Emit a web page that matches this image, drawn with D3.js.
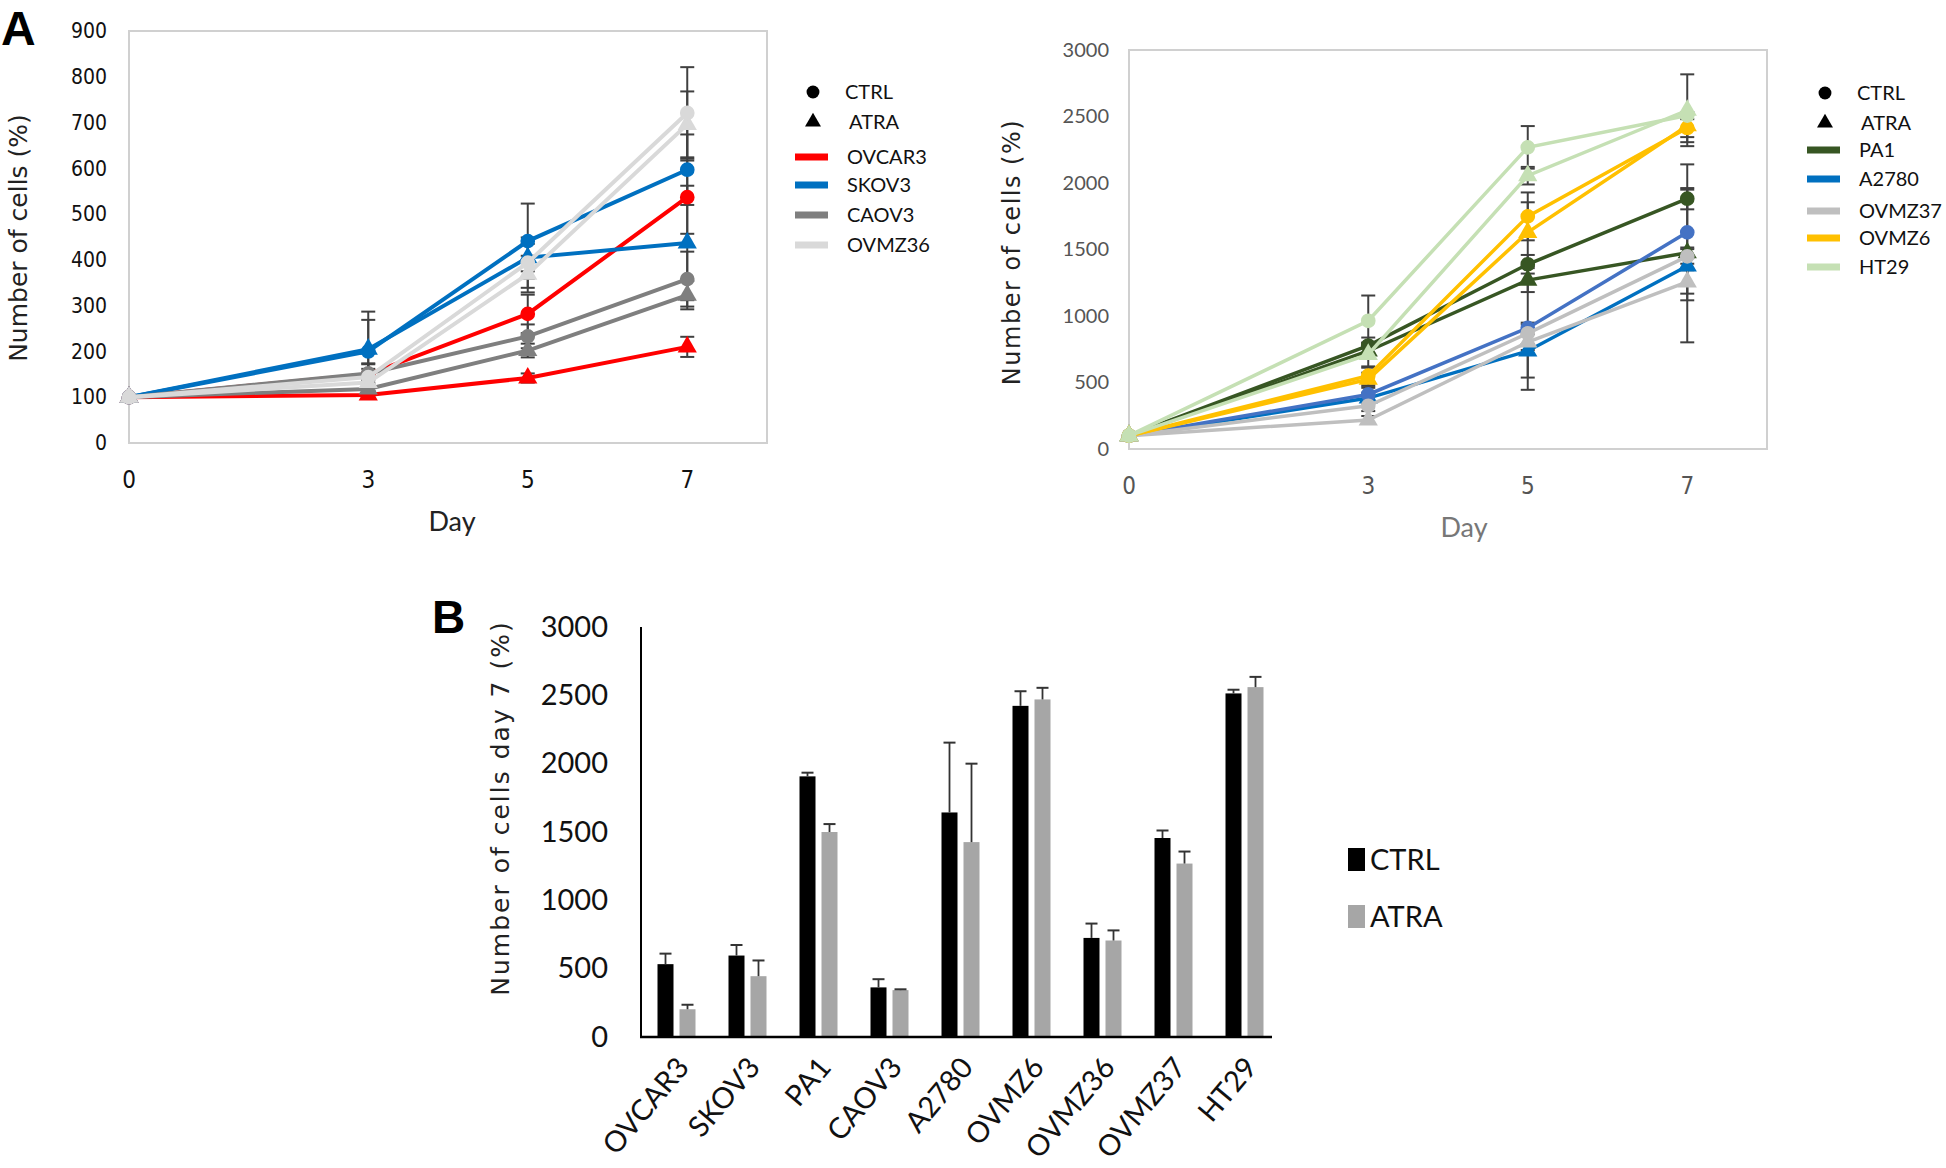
<!DOCTYPE html>
<html>
<head>
    <title></title>
    <meta charset="utf-8" />
    <script src="https://cdn.jsdelivr.net/npm/d3@7"></script>
    <style>
        body { margin: 0; background: #fff; }
        .tick-narrow { font-family: "Liberation Sans Narrow", "DejaVu Sans Condensed", sans-serif; }
        .lato { font-family: Lato, "Open Sans", sans-serif; }
        .title-wide { font-family: "DejaVu Sans", Verdana, sans-serif; }
    </style>
</head>
<body>
    <script>
        // ---- panel A left ----
        var days = [0, 3, 5, 7];
        var leftNames = ['OVCAR3', 'SKOV3', 'CAOV3', 'OVMZ36'];
        var leftColors = ['#ff0000', '#0070c0', '#7f7f7f', '#d9d9d9'];
        var leftTicks = [0, 100, 200, 300, 400, 500, 600, 700, 800, 900];

        var ovcar3Ctrl = [100, 150, 282, 537], ovcar3CtrlErr = [0, 12, 42, 80];
        var ovcar3Atra = [100, 105, 142, 210], ovcar3AtraErr = [0, 5, 10, 22];
        var skov3Ctrl = [100, 200, 441, 597], skov3CtrlErr = [0, 87, 82, 77];
        var skov3Atra = [100, 205, 405, 437], skov3AtraErr = [0, 64, 30, 125];
        var caov3Ctrl = [100, 152, 233, 358], caov3CtrlErr = [0, 20, 26, 60];
        var caov3Atra = [100, 118, 202, 323], caov3AtraErr = [0, 10, 15, 31];
        var ovmz36Ctrl = [100, 144, 394, 721], ovmz36CtrlErr = [0, 30, 55, 100];
        var ovmz36Atra = [100, 132, 369, 696], ovmz36AtraErr = [0, 20, 40, 72];

        // ---- panel A right ----
        var rightNames = ['PA1', 'A2780', 'OVMZ37', 'OVMZ6', 'HT29'];
        var rightColors = ['#375623', '#0070c0', '#bfbfbf', '#ffc000', '#c5e0b4'];
        var rightCtrlColors = ['#375623', '#4472c4', '#bfbfbf', '#ffc000', '#c5e0b4'];
        var rightTicks = [0, 500, 1000, 1500, 2000, 2500, 3000];

        var pa1Ctrl = [100, 778, 1389, 1882], pa1CtrlErr = [0, 60, 70, 80];
        var pa1Atra = [100, 737, 1270, 1475], pa1AtraErr = [0, 60, 90, 40];
        var a2780Ctrl = [100, 410, 910, 1629], a2780CtrlErr = [0, 50, 465, 511];
        var a2780Atra = [100, 383, 737, 1376], a2780AtraErr = [0, 40, 200, 574];
        var ovmz37Ctrl = [100, 325, 870, 1448], ovmz37CtrlErr = [0, 40, 80, 55];
        var ovmz37Atra = [100, 218, 804, 1256], ovmz37AtraErr = [0, 30, 60, 88];
        var ovmz6Ctrl = [100, 551, 1749, 2414], ovmz6CtrlErr = [0, 60, 180, 107];
        var ovmz6Atra = [100, 524, 1629, 2430], ovmz6AtraErr = [0, 50, 226, 85];
        var ht29Ctrl = [100, 964, 2268, 2507], ht29CtrlErr = [0, 190, 160, 27];
        var ht29Atra = [100, 711, 2055, 2547], ht29AtraErr = [0, 90, 66, 270];

        // ---- panel B ----
        var barCategories = ['OVCAR3', 'SKOV3', 'PA1', 'CAOV3', 'A2780', 'OVMZ6', 'OVMZ36', 'OVMZ37', 'HT29'];
        var barCtrl = [533, 596, 1907, 363, 1643, 2423, 725, 1456, 2514];
        var barCtrlErr = [77, 77, 27, 60, 511, 107, 105, 55, 27];
        var barAtra = [203, 445, 1500, 343, 1426, 2470, 706, 1269, 2560];
        var barAtraErr = [33, 115, 58, 6, 574, 85, 74, 88, 75];
        var barTicks = [0, 500, 1000, 1500, 2000, 2500, 3000];

        var svg = d3.select('body').append('svg').attr('width', 1946).attr('height', 1168);
        svg.append('rect').attr('width', 1946).attr('height', 1168).attr('fill', '#fff');

        var circle = d3.symbol().type(d3.symbolCircle).size(170);
        var triangle = d3.symbol().type(d3.symbolTriangle).size(160);
        var fmt = d3.format('d');

        function series(ctrl, ctrlErr, atra, atraErr) {
            return { ctrl: ctrl, ctrlErr: ctrlErr, atra: atra, atraErr: atraErr };
        }

        function linePanel(opt) {
            var g = svg.append('g');
            var x = d3.scaleLinear().domain([0, 8]).range([opt.left, opt.right]);
            var y = d3.scaleLinear().domain([0, opt.max]).range([opt.bottom, opt.top]);

            // frame
            g.append('rect')
                .attr('x', opt.left).attr('y', opt.top)
                .attr('width', opt.right - opt.left).attr('height', opt.bottom - opt.top)
                .attr('fill', 'none').attr('stroke', '#d0d0d0').attr('stroke-width', 2);

            // y tick labels
            var ya = d3.axisLeft(y).tickValues(opt.ticks).tickFormat(fmt).tickSize(0).tickPadding(opt.pad);
            var yg = g.append('g').attr('transform', 'translate(' + opt.left + ',0)').call(ya);
            yg.select('.domain').remove();
            yg.selectAll('text').attr('class', opt.tickClass).attr('font-size', opt.tickSize).attr('fill', opt.tickColor);

            // x tick labels below frame
            g.selectAll('.xl').data(days).enter().append('text')
                .attr('class', 'tick-narrow')
                .attr('x', function (d) { return x(d); })
                .attr('y', opt.bottom + 45)
                .attr('text-anchor', 'middle')
                .attr('font-size', 24).attr('fill', opt.tickColor)
                .text(function (d) { return d; });

            g.append('text').attr('x', opt.dayX).attr('y', opt.bottom + 88)
                .attr('text-anchor', 'middle').attr('class', 'lato')
                .attr('font-size', 27).attr('fill', opt.dayColor).text('Day');

            g.append('text').attr('class', 'title-wide')
                .attr('transform', 'translate(' + opt.titleX + ',' + opt.titleY + ') rotate(-90)')
                .attr('text-anchor', 'middle').attr('font-size', opt.titleSize)
                .attr('letter-spacing', opt.titleSpacing)
                .attr('fill', '#222').text('Number of cells (%)');

            var line = d3.line().x(function (d, i) { return x(days[i]); }).y(function (d) { return y(d); });

            // error bars first
            opt.data.forEach(function (s) {
                [[s.ctrl, s.ctrlErr], [s.atra, s.atraErr]].forEach(function (p) {
                    p[0].forEach(function (v, i) {
                        var e = p[1][i];
                        if (!e) return;
                        var cx = x(days[i]);
                        g.append('line').attr('x1', cx).attr('x2', cx)
                            .attr('y1', y(v - e)).attr('y2', y(v + e))
                            .attr('stroke', '#404040').attr('stroke-width', 2);
                        [v - e, v + e].forEach(function (w) {
                            g.append('line').attr('x1', cx - 7).attr('x2', cx + 7)
                                .attr('y1', y(w)).attr('y2', y(w))
                                .attr('stroke', '#404040').attr('stroke-width', 2);
                        });
                    });
                });
            });

            opt.data.forEach(function (s, k) {
                g.append('path').datum(s.atra).attr('d', line).attr('fill', 'none')
                    .attr('stroke', opt.colors[k]).attr('stroke-width', opt.lineWidth);
                g.append('path').datum(s.ctrl).attr('d', line).attr('fill', 'none')
                    .attr('stroke', opt.ctrlColors[k]).attr('stroke-width', opt.lineWidth);
                g.selectAll(null).data(s.atra).enter().append('path')
                    .attr('d', triangle).attr('fill', opt.colors[k])
                    .attr('transform', function (d, i) { return 'translate(' + x(days[i]) + ',' + y(d) + ')'; });
                g.selectAll(null).data(s.ctrl).enter().append('path')
                    .attr('d', circle).attr('fill', opt.ctrlColors[k])
                    .attr('transform', function (d, i) { return 'translate(' + x(days[i]) + ',' + y(d) + ')'; });
            });

            // legend
            var lg = g.append('g');
            lg.append('path').attr('d', d3.symbol().type(d3.symbolCircle).size(130))
                .attr('transform', 'translate(' + opt.legX + ',' + opt.legY[0] + ')');
            lg.append('path').attr('d', d3.symbol().type(d3.symbolTriangle).size(110))
                .attr('transform', 'translate(' + opt.legX + ',' + opt.legY[1] + ')');
            ['CTRL', 'ATRA'].forEach(function (t, i) {
                lg.append('text').attr('class', 'lato').attr('x', opt.legX + 32 + i * 4).attr('y', opt.legY[i] + 7)
                    .attr('font-size', 20).attr('fill', '#111').text(t);
            });
            opt.names.forEach(function (t, i) {
                var yy = opt.legY[i + 2];
                lg.append('line').attr('x1', opt.legX - 18).attr('x2', opt.legX + 15)
                    .attr('y1', yy).attr('y2', yy).attr('stroke', opt.colors[i]).attr('stroke-width', 7);
                lg.append('text').attr('class', 'lato').attr('x', opt.legX + 34).attr('y', yy + 7)
                    .attr('font-size', 20).attr('fill', '#111').text(t);
            });
        }

        linePanel({
            left: 129, right: 767, top: 31, bottom: 443, max: 900, ticks: leftTicks, pad: 22,
            tickClass: 'tick-narrow', tickSize: 21,
            tickColor: '#111', dayColor: '#222', dayX: 452, titleX: 27, titleY: 238, titleSize: 25, titleSpacing: 0,
            names: leftNames, colors: leftColors, ctrlColors: leftColors, lineWidth: 4,
            data: [series(ovcar3Ctrl, ovcar3CtrlErr, ovcar3Atra, ovcar3AtraErr),
                series(skov3Ctrl, skov3CtrlErr, skov3Atra, skov3AtraErr),
                series(caov3Ctrl, caov3CtrlErr, caov3Atra, caov3AtraErr),
                series(ovmz36Ctrl, ovmz36CtrlErr, ovmz36Atra, ovmz36AtraErr)],
            legX: 813, legY: [92, 122, 157, 185, 215, 245]
        });

        linePanel({
            left: 1129, right: 1767, top: 50, bottom: 449, max: 3000, ticks: rightTicks, pad: 20,
            tickClass: 'lato', tickSize: 20,
            tickColor: '#555', dayColor: '#777', dayX: 1464, titleX: 1020, titleY: 252, titleSize: 24, titleSpacing: 1.5,
            names: rightNames, colors: rightColors, ctrlColors: rightCtrlColors, lineWidth: 3.5,
            data: [series(pa1Ctrl, pa1CtrlErr, pa1Atra, pa1AtraErr),
                series(a2780Ctrl, a2780CtrlErr, a2780Atra, a2780AtraErr),
                series(ovmz37Ctrl, ovmz37CtrlErr, ovmz37Atra, ovmz37AtraErr),
                series(ovmz6Ctrl, ovmz6CtrlErr, ovmz6Atra, ovmz6AtraErr),
                series(ht29Ctrl, ht29CtrlErr, ht29Atra, ht29AtraErr)],
            legX: 1825, legY: [93, 123, 150, 179, 211, 238, 267]
        });

        // panel letters
        svg.append('text').attr('x', 1).attr('y', 45).attr('font-family', 'Liberation Sans, Arial, sans-serif')
            .attr('font-weight', 'bold').attr('font-size', 48).text('A');
        svg.append('text').attr('x', 432).attr('y', 633).attr('font-family', 'Liberation Sans, Arial, sans-serif')
            .attr('font-weight', 'bold').attr('font-size', 46).text('B');

        // ---- bar chart B ----
        var bx = d3.scaleBand().domain(barCategories).range([641, 1280]);
        var by = d3.scaleLinear().domain([0, 3000]).range([1037, 627]);
        var bw = 16, gap = 6;
        var gb = svg.append('g');

        var bya = d3.axisLeft(by).tickValues(barTicks).tickFormat(fmt).tickSize(0).tickPadding(33);
        var byg = gb.append('g').attr('transform', 'translate(641,0)').call(bya);
        byg.select('.domain').remove();
        byg.selectAll('text').attr('class', 'lato').attr('font-size', 29).attr('fill', '#111');

        function bars(vals, errs, color, off) {
            gb.selectAll(null).data(vals).enter().append('rect')
                .attr('x', function (d, i) { return bx(barCategories[i]) + bx.bandwidth() / 2 + off; })
                .attr('y', function (d) { return by(d); })
                .attr('width', bw)
                .attr('height', function (d) { return by(0) - by(d); })
                .attr('fill', color);
            vals.forEach(function (v, i) {
                var cx = bx(barCategories[i]) + bx.bandwidth() / 2 + off + bw / 2;
                gb.append('line').attr('x1', cx).attr('x2', cx).attr('y1', by(v)).attr('y2', by(v + errs[i]))
                    .attr('stroke', '#333').attr('stroke-width', 1.8);
                gb.append('line').attr('x1', cx - 6).attr('x2', cx + 6).attr('y1', by(v + errs[i])).attr('y2', by(v + errs[i]))
                    .attr('stroke', '#333').attr('stroke-width', 2);
            });
        }
        bars(barCtrl, barCtrlErr, '#000', -bw - gap / 2);
        bars(barAtra, barAtraErr, '#a6a6a6', gap / 2);

        gb.append('line').attr('x1', 641).attr('x2', 641).attr('y1', 627).attr('y2', 1038)
            .attr('stroke', '#000').attr('stroke-width', 2);
        gb.append('line').attr('x1', 640).attr('x2', 1272).attr('y1', 1037).attr('y2', 1037)
            .attr('stroke', '#000').attr('stroke-width', 2.5);

        gb.selectAll('.cat').data(barCategories).enter().append('text')
            .attr('class', 'lato')
            .attr('text-anchor', 'end').attr('font-size', 29).attr('fill', '#111')
            .attr('transform', function (d) {
                return 'translate(' + (bx(d) + bx.bandwidth() / 2 + 14) + ',1068) rotate(-50)';
            })
            .text(function (d) { return d; });

        gb.append('text').attr('class', 'title-wide')
            .attr('transform', 'translate(509,808) rotate(-90)')
            .attr('text-anchor', 'middle').attr('font-size', 25).attr('letter-spacing', 2)
            .attr('fill', '#222').text('Number of cells day 7 (%)');

        [['CTRL', '#000', 859], ['ATRA', '#a6a6a6', 916]].forEach(function (d) {
            gb.append('rect').attr('x', 1348).attr('y', d[2] - 11).attr('width', 17).attr('height', 23).attr('fill', d[1]);
            gb.append('text').attr('class', 'lato').attr('x', 1370).attr('y', d[2] + 11)
                .attr('font-size', 29).attr('fill', '#111').text(d[0]);
        });
    </script>
</body>
</html>
